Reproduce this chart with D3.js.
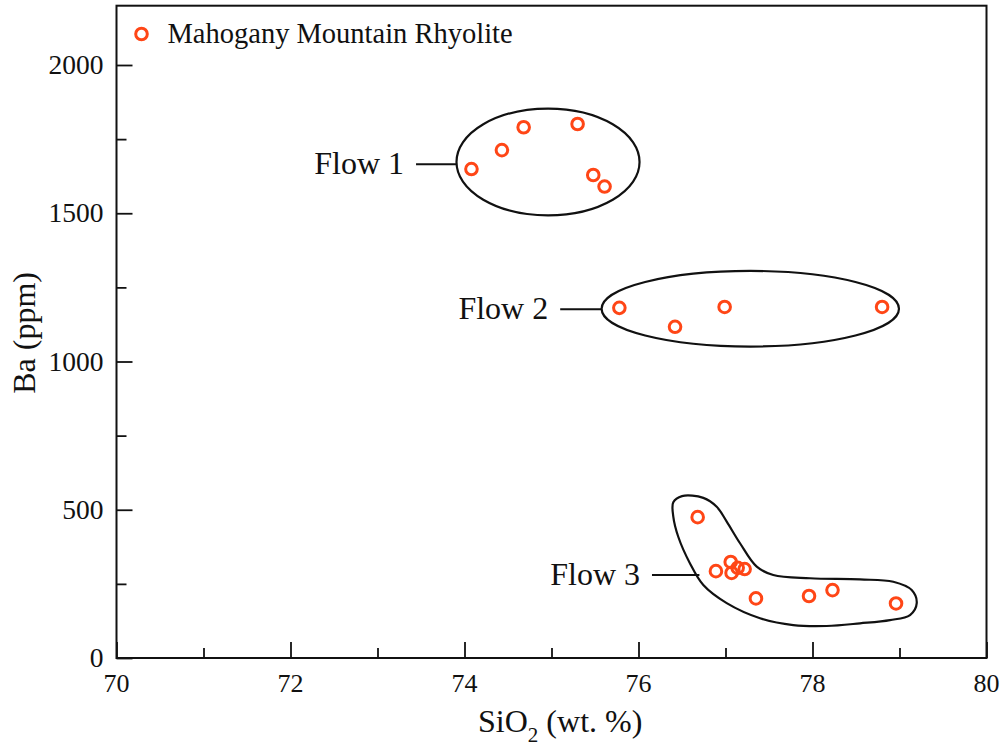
<!DOCTYPE html>
<html>
<head>
<meta charset="utf-8">
<script src="https://cdn.jsdelivr.net/npm/d3@7"></script>
<style>
  html, body { margin: 0; padding: 0; background: #fff; }
  svg { display: block; }
  text { font-family: "Liberation Serif", "Times New Roman", serif; fill: #111; }
</style>
</head>
<body>
<svg id="chart" width="1006" height="746"></svg>
<script>
// SiO2 (wt. %) and Ba (ppm) for each flow of the Mahogany Mountain Rhyolite
const flow1Si = [74.08, 74.43, 74.68, 75.30, 75.48, 75.61];
const flow1Ba = [1649, 1713, 1790, 1801, 1629, 1590];

const flow2Si = [75.78, 76.42, 76.99, 78.80];
const flow2Ba = [1181, 1117, 1184, 1184];

const flow3Si = [76.68, 76.89, 77.06, 77.07, 77.14, 77.22, 77.35, 77.96, 78.23, 78.96];
const flow3Ba = [475, 293, 324, 287, 304, 300, 201, 209, 229, 184];

// Axis ticks
const xMajorTicks = [70, 72, 74, 76, 78, 80];
const xMinorTicks = [71, 73, 75, 77, 79];
const yMajorTicks = [0, 500, 1000, 1500, 2000];
const yMinorTicks = [250, 750, 1250, 1750];

// Group outlines, in data units
const flow1Ellipse = { si: 74.96, ba: 1673, rSi: 1.052, rBa: 180 };
const flow2Ellipse = { si: 77.285, ba: 1178, rSi: 1.709, rBa: 127.5 };
const flow3OutlineSi = [76.40, 76.50, 76.745, 76.899, 77.014, 77.167, 77.359, 77.549, 77.971, 78.546,
  78.929, 79.140, 79.198, 79.121, 78.891, 78.546, 78.163, 77.779, 77.397, 77.014, 76.745, 76.592, 76.457, 76.40];
const flow3OutlineBa = [525, 546, 540, 510, 460, 387, 308, 280, 269, 265,
  257, 229, 185, 145, 128, 117, 108, 111, 134, 185, 246, 319, 409, 477];

// Group labels with their leader lines (data units)
const groupLabels = ["Flow 1", "Flow 2", "Flow 3"];
const leaderFromSi = [73.443, 75.10, 76.155];
const leaderToSi = [73.908, 75.576, 76.70];
const leaderBa = [1665, 1176, 280];

const legendLabel = "Mahogany Mountain Rhyolite";

const markerColor = "#ff4616";
const serif = "'Liberation Serif', 'Times New Roman', serif";

const svg = d3.select("#chart");
const margin = { left: 116.5, right: 19.5, top: 5.7, bottom: 88 };
const W = 1006, H = 746;

const x = d3.scaleLinear().domain([70, 80]).range([margin.left, W - margin.right]);
const y = d3.scaleLinear().domain([0, 2200]).range([H - margin.bottom, margin.top]);

const x0 = x.range()[0], x1 = x.range()[1];
const y0 = y.range()[0], y1 = y.range()[1];

// Axes: inward ticks, major labelled, minor unlabelled
const xAxis = svg.append("g").attr("transform", `translate(0,${y0})`);
xAxis.call(d3.axisTop(x).tickValues(xMajorTicks).tickSize(16).tickFormat(""));
xAxis.append("g").call(d3.axisTop(x).tickValues(xMinorTicks).tickSize(10).tickFormat(""));
xAxis.selectAll(".domain").remove();
xAxis.selectAll("line").attr("stroke", "#111").attr("stroke-width", 1.8);

const yAxis = svg.append("g").attr("transform", `translate(${x0},0)`);
yAxis.call(d3.axisRight(y).tickValues(yMajorTicks).tickSize(16).tickFormat(""));
yAxis.append("g").call(d3.axisRight(y).tickValues(yMinorTicks).tickSize(10).tickFormat(""));
yAxis.selectAll(".domain").remove();
yAxis.selectAll("line").attr("stroke", "#111").attr("stroke-width", 1.8);

// Tick labels
svg.append("g").selectAll("text").data(xMajorTicks).join("text")
  .attr("x", d => x(d)).attr("y", y0 + 34)
  .attr("text-anchor", "middle").attr("font-size", 26).attr("font-family", serif)
  .text(d => d);

svg.append("g").selectAll("text").data(yMajorTicks).join("text")
  .attr("x", x0 - 13).attr("y", d => y(d) + 9)
  .attr("text-anchor", "end").attr("font-size", 27.5).attr("font-family", serif)
  .text(d => d);

// Frame
svg.append("rect")
  .attr("x", x0).attr("y", y1).attr("width", x1 - x0).attr("height", y0 - y1)
  .attr("fill", "none").attr("stroke", "#111").attr("stroke-width", 2);

// Axis titles
const xTitle = svg.append("text")
  .attr("x", x(75.1)).attr("y", 732)
  .attr("text-anchor", "middle").attr("font-size", 32).attr("font-family", serif);
xTitle.append("tspan").text("SiO");
xTitle.append("tspan").attr("font-size", 21).attr("dy", 10).text("2");
xTitle.append("tspan").attr("dy", -10).text(" (wt. %)");

svg.append("text")
  .attr("transform", `translate(35,${(y0 + y1) / 2 + 1}) rotate(-90)`)
  .attr("text-anchor", "middle").attr("font-size", 32).attr("font-family", serif)
  .text("Ba (ppm)");

// Group outlines
const outlines = svg.append("g").attr("fill", "none").attr("stroke", "#111").attr("stroke-width", 2.2);
[flow1Ellipse, flow2Ellipse].forEach(e => {
  outlines.append("ellipse")
    .attr("cx", x(e.si)).attr("cy", y(e.ba))
    .attr("rx", x(e.si + e.rSi) - x(e.si))
    .attr("ry", y(e.ba) - y(e.ba + e.rBa));
});
const outline3 = flow3OutlineSi.map((s, i) => [s, flow3OutlineBa[i]]);
outlines.append("path")
  .attr("d", d3.line().x(d => x(d[0])).y(d => y(d[1])).curve(d3.curveCatmullRomClosed.alpha(0.5))(outline3));

// Leader lines and group labels
groupLabels.forEach((lab, i) => {
  svg.append("line")
    .attr("x1", x(leaderFromSi[i])).attr("x2", x(leaderToSi[i]))
    .attr("y1", y(leaderBa[i])).attr("y2", y(leaderBa[i]))
    .attr("stroke", "#111").attr("stroke-width", 2);
  svg.append("text")
    .attr("x", x(leaderFromSi[i]) - 12).attr("y", y(leaderBa[i]) + 10)
    .attr("text-anchor", "end").attr("font-size", 32).attr("font-family", serif)
    .text(lab);
});

// Data points
const points = [];
flow1Si.forEach((s, i) => points.push([s, flow1Ba[i]]));
flow2Si.forEach((s, i) => points.push([s, flow2Ba[i]]));
flow3Si.forEach((s, i) => points.push([s, flow3Ba[i]]));

svg.append("g").selectAll("circle").data(points).join("circle")
  .attr("cx", d => x(d[0])).attr("cy", d => y(d[1]))
  .attr("r", 5.8)
  .attr("fill", "none").attr("stroke", markerColor).attr("stroke-width", 3);

// Legend
const legend = svg.append("g");
legend.append("circle")
  .attr("cx", x0 + 25).attr("cy", 34).attr("r", 5.8)
  .attr("fill", "none").attr("stroke", markerColor).attr("stroke-width", 3);
legend.append("text")
  .attr("x", x0 + 51).attr("y", 43)
  .attr("font-size", 28.5).attr("font-family", serif)
  .text(legendLabel);
</script>
</body>
</html>
